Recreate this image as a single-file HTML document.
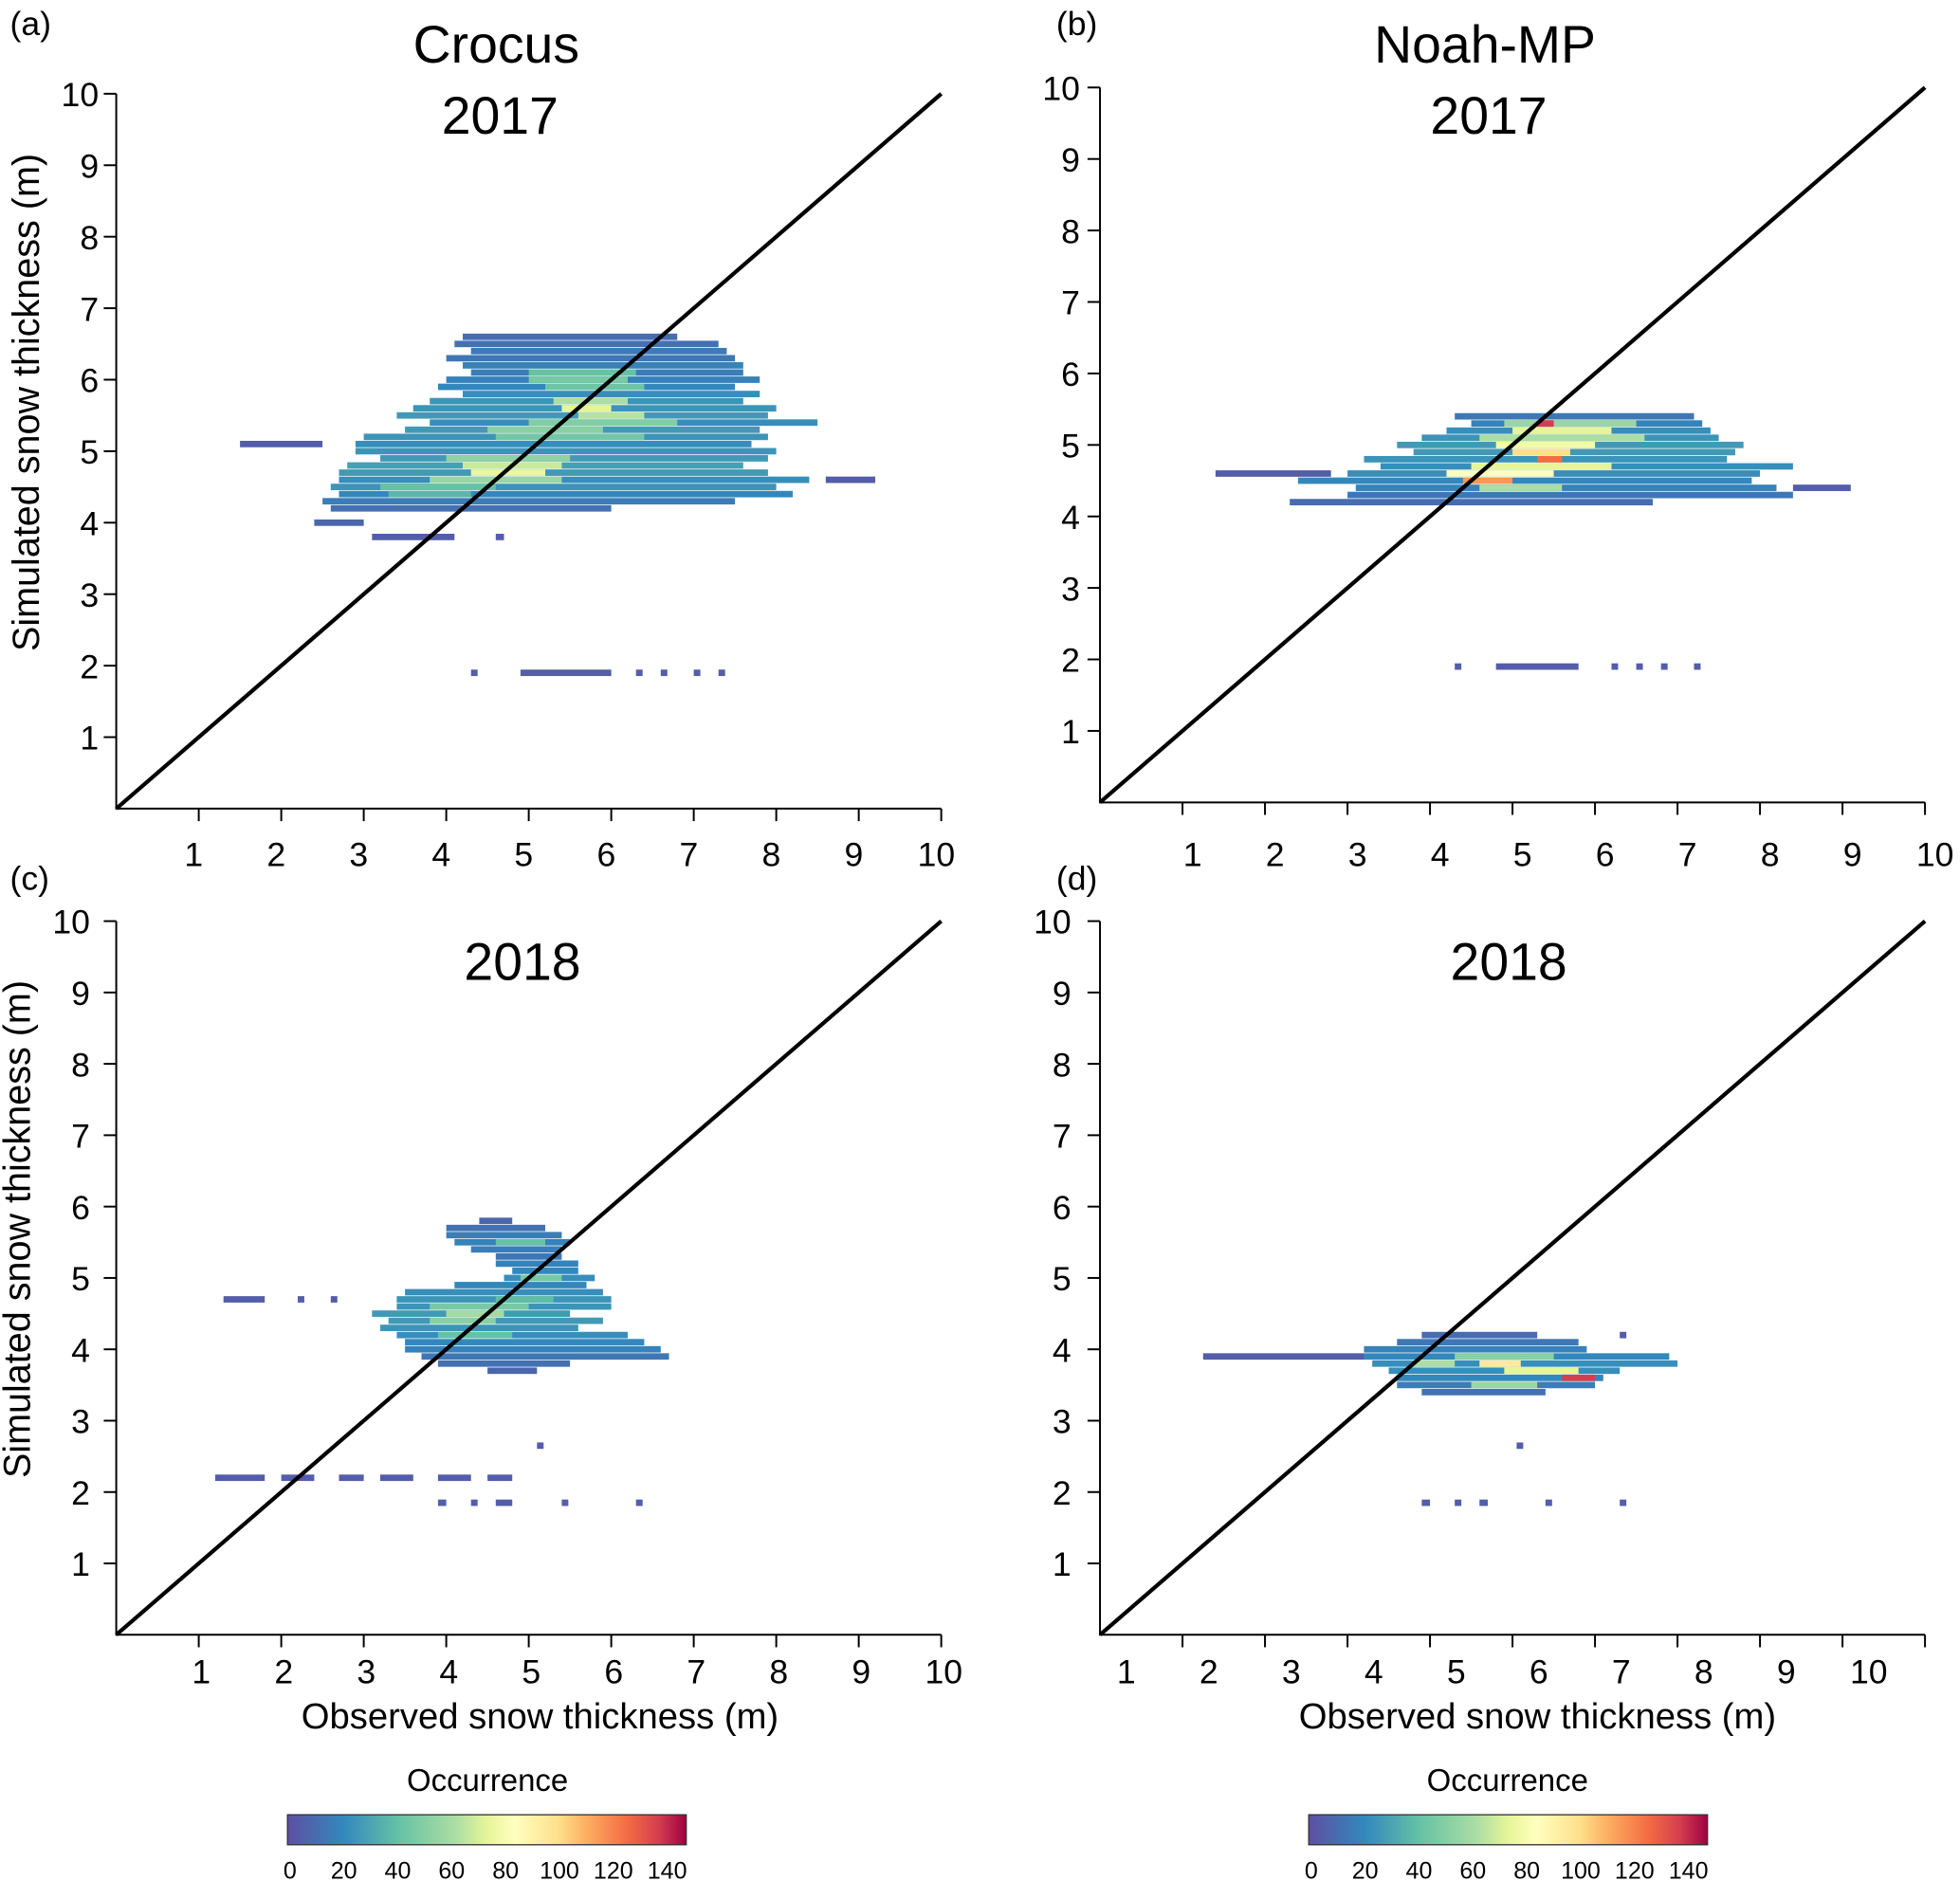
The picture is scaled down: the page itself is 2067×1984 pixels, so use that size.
<!DOCTYPE html>
<html><head><meta charset="utf-8">
<style>
html,body{margin:0;padding:0;background:#fff;}
svg{display:block;font-family:"Liberation Sans",Arial,sans-serif;}
</style></head>
<body>
<svg id="fig" width="2067" height="1984" viewBox="0 0 1568 1505" preserveAspectRatio="none" xmlns="http://www.w3.org/2000/svg">
<defs>
<linearGradient id="cmap" x1="0" x2="1" y1="0" y2="0">
<stop offset="0" stop-color="#5e4fa2"/><stop offset="0.14" stop-color="#3288bd"/>
<stop offset="0.28" stop-color="#66c2a5"/><stop offset="0.42" stop-color="#abdda4"/>
<stop offset="0.5" stop-color="#e6f598"/><stop offset="0.57" stop-color="#ffffbf"/>
<stop offset="0.68" stop-color="#fee08b"/><stop offset="0.75" stop-color="#fdae61"/>
<stop offset="0.85" stop-color="#f46d43"/><stop offset="0.93" stop-color="#d53e4f"/>
<stop offset="1" stop-color="#9e0142"/></linearGradient>
</defs>
</svg>
<script>
// tick values
const xTicks=[1,2,3,4,5,6,7,8,9,10];
const yTicks=[1,2,3,4,5,6,7,8,9,10];
const cbTicks=[0,20,40,60,80,100,120,140];
// heatmap segments: [y, xStart, xEnd, occurrence]
const segA=[
[6.6,4.2,6.8,10],[6.5,4.1,7.3,12],[6.4,4.3,7.4,15],[6.3,4.0,7.5,14],[6.2,4.2,7.6,18],[6.1,4.3,7.6,16],
[6.0,4.0,7.8,18],[5.9,3.9,7.5,20],[5.8,4.2,7.8,22],[5.7,3.8,7.6,24],[5.6,3.6,8.0,24],[5.5,3.4,7.9,26],
[5.4,3.8,8.5,22],[5.3,3.5,7.8,26],[5.2,3.0,7.9,24],[5.1,2.9,7.7,22],[5.1,1.5,2.5,5],[5.0,2.9,8.0,24],
[4.9,3.2,7.9,26],[4.8,2.8,7.6,28],[4.7,2.7,7.9,26],[4.6,2.7,8.4,22],[4.6,8.6,9.2,5],[4.5,2.6,8.0,24],
[4.4,2.7,8.2,20],[4.3,2.5,7.5,16],[4.2,2.6,6.0,12],[4.0,2.4,3.0,8],[3.8,3.1,4.1,5],[3.8,4.6,4.7,5],
[1.9,4.3,4.35,5],[1.9,4.9,6.0,5],[1.9,6.3,6.35,5],[1.9,6.6,6.65,5],[1.9,7.0,7.05,5],[1.9,7.3,7.35,5],
// hotter core
[6.1,5.0,6.3,40],[6.0,5.0,6.2,45],[5.9,5.2,6.4,42],[5.7,5.3,6.2,60],[5.6,5.4,6.0,70],[5.5,5.6,6.4,62],
[5.4,5.0,6.8,48],[5.3,4.5,5.9,50],[5.2,4.6,6.4,44],[4.9,4.0,5.5,52],[4.8,4.2,5.4,65],[4.7,4.3,5.2,72],
[4.6,3.8,5.4,55],[4.5,3.2,4.6,40],[4.4,3.3,4.3,36]
];
const segB=[
[5.4,4.3,7.2,14],[5.3,4.5,7.3,18],[5.2,4.2,7.4,22],[5.1,3.9,7.5,24],[5.0,3.6,7.8,26],[4.9,3.8,7.7,26],
[4.8,3.2,7.6,24],[4.7,3.4,8.4,22],[4.6,3.0,8.0,22],[4.6,1.4,2.8,5],[4.5,2.4,7.9,20],[4.4,3.1,8.2,18],
[4.4,8.4,9.1,5],[4.3,3.0,8.4,14],[4.2,2.3,6.7,10],
[1.9,4.3,4.35,5],[1.9,4.8,5.8,5],[1.9,6.2,6.25,5],[1.9,6.5,6.55,5],[1.9,6.8,6.85,5],[1.9,7.2,7.25,5],
[5.3,4.9,6.5,55],[5.2,5.0,6.2,70],[5.1,4.6,6.6,60],[5.0,4.8,6.0,75],[4.9,5.0,5.7,95],[4.8,5.3,5.6,120],
[4.7,4.5,6.2,70],[4.6,4.2,5.5,80],[4.5,4.4,5.0,110],[4.4,4.6,5.6,60],[5.3,5.3,5.5,130]
];
const segC=[
[5.8,4.4,4.8,8],[5.7,4.0,5.2,12],[5.6,4.0,5.4,16],[5.5,4.1,5.5,18],[5.4,4.3,5.4,16],[5.3,4.6,5.4,14],
[5.2,4.6,5.6,18],[5.1,4.8,5.6,20],[5.0,4.7,5.8,22],[4.9,4.1,5.7,20],[4.8,3.5,5.9,22],[4.7,3.4,6.0,24],
[4.7,1.3,1.8,5],[4.7,2.2,2.25,5],[4.7,2.6,2.65,5],[4.6,3.4,6.0,24],[4.5,3.1,5.5,26],[4.4,3.3,5.9,26],
[4.3,3.2,5.6,24],[4.2,3.4,6.2,22],[4.1,3.5,6.4,20],[4.0,3.5,6.6,18],[3.9,3.7,6.7,14],[3.8,3.9,5.5,12],
[3.7,4.5,5.1,8],[2.65,5.1,5.15,5],
[2.2,1.2,1.8,5],[2.2,2.0,2.4,5],[2.2,2.7,3.0,5],[2.2,3.2,3.6,5],[2.2,3.9,4.3,5],[2.2,4.5,4.8,5],
[1.85,3.9,4.0,5],[1.85,4.3,4.35,5],[1.85,4.6,4.8,5],[1.85,5.4,5.45,5],[1.85,6.3,6.35,5],
[5.5,4.6,5.2,40],[5.0,4.9,5.4,45],[4.6,3.8,5.0,45],[4.5,4.0,4.7,58],[4.4,3.8,4.6,50],[4.2,3.9,4.8,40],[4.7,4.6,5.3,38]
];
const segD=[
[4.2,3.9,5.3,10],[4.2,6.3,6.35,5],[4.1,3.6,5.8,14],[4.0,3.2,5.9,18],[3.9,3.2,6.9,20],[3.9,1.25,3.2,5],
[3.8,3.3,7.0,22],[3.7,3.5,6.3,22],[3.6,3.6,6.1,20],[3.5,3.6,6.0,16],[3.4,3.9,5.4,12],[2.65,5.05,5.1,5],
[1.85,3.9,4.0,5],[1.85,4.3,4.35,5],[1.85,4.6,4.7,5],[1.85,5.4,5.45,5],[1.85,6.3,6.35,5],
[3.9,4.3,5.5,50],[3.8,4.6,5.1,90],[3.7,4.9,5.8,70],[3.6,5.6,6.0,130],[3.5,4.5,5.3,55],[3.8,3.8,4.3,60]
];
const panels=[
 {id:'a',ox:93,oy:647,x10:753,y10:75,seg:segA,title:['Crocus','2017'],tx:397,xlabOff:-4,xlabY:683,ylabX:79,xTitle:false},
 {id:'b',ox:880,oy:642,x10:1540,y10:70,seg:segB,title:['Noah-MP','2017'],tx:1188,xlabOff:8,xlabY:683,ylabX:864,xTitle:false},
 {id:'c',ox:93,oy:1308,x10:753,y10:737,seg:segC,title:[null,'2018'],tx:418,xlabOff:2,xlabY:1337,ylabX:72,xTitle:true},
 {id:'d',ox:880,oy:1308,x10:1540,y10:737,seg:segD,title:[null,'2018'],tx:1207,xlabOff:-45,xlabY:1337,ylabX:857,xTitle:true}
];
const NS='http://www.w3.org/2000/svg';
const svg=document.getElementById('fig');
const stops=[[0,[94,79,162]],[20,[50,136,189]],[40,[102,194,165]],[60,[171,221,164]],[70,[230,245,152]],[80,[255,255,191]],[95,[254,224,139]],[105,[253,174,97]],[120,[244,109,67]],[130,[213,62,79]],[140,[158,1,66]]];
function color(v){
 for(let i=1;i<stops.length;i++){if(v<=stops[i][0]){const a=stops[i-1],b=stops[i];const t=(v-a[0])/(b[0]-a[0]);
  const c=a[1].map((q,k)=>Math.round(q+(b[1][k]-q)*t));return `rgb(${c})`;}}
 return 'rgb(158,1,66)';
}
function mk(tag,attrs,parent){const e=document.createElementNS(NS,tag);for(const k in attrs)e.setAttribute(k,attrs[k]);(parent||svg).appendChild(e);return e;}
panels.forEach(p=>{
 const sx=v=>p.ox+(p.x10-p.ox)*v/10, sy=v=>p.oy-(p.oy-p.y10)*v/10;
 const g=mk('g',{});
 
 
 const hm=mk('g',{},g);
 
 
 const cw=0.08, ch=0.09;
 p.seg.forEach(s=>{
  const [y,x0,x1,v]=s;
  const r=mk('rect',{x:sx(x0).toFixed(2),y:sy(y+ch/2).toFixed(2),width:Math.max(sx(x1)-sx(x0),sx(cw)-sx(0)).toFixed(2),height:(sy(0)-sy(ch)).toFixed(2),fill:color(v)},hm);
  
  
 });
 const ln=mk('line',{x1:sx(0),y1:sy(0),x2:sx(10),y2:sy(10),stroke:'#000','stroke-width':3.2},g);
 
 
 const ax=mk('path',{d:`M${sx(0)},${sy(10)}V${sy(0)}H${sx(10)}`,stroke:'#000','stroke-width':1.5,fill:'none'},g);
 
 
 xTicks.forEach(t=>{
  mk('line',{x1:sx(t),x2:sx(t),y1:sy(0),y2:sy(0)+10,stroke:'#000','stroke-width':1.5},g);
  const tx=mk('text',{x:sx(t)+p.xlabOff,y:p.xlabY+10,'font-size':27,'text-anchor':'middle'},g);
  tx.textContent=t;
  
  
 });
 yTicks.forEach(t=>{
  mk('line',{x1:sx(0)-10,x2:sx(0),y1:sy(t),y2:sy(t),stroke:'#000','stroke-width':1.5},g);
  const tx=mk('text',{x:p.ylabX,y:sy(t)+10,'font-size':27,'text-anchor':'end'},g);
  tx.textContent=t;
  
  
 });
 const lb=mk('text',{x:(p.id==='a'||p.id==='c')?8:845,y:(p.id==='a'||p.id==='b')?28:712,'font-size':27},g);
 lb.textContent='('+p.id+')';
 
 
 if(p.title[0]){const t=mk('text',{x:p.tx,y:50,'font-size':42,'text-anchor':'middle'},g);t.textContent=p.title[0];
  
  }
 const t2=mk('text',{x:p.tx+(p.title[0]?3:0),y:p.title[0]?107:784,'font-size':42,'text-anchor':'middle'},g);
 t2.textContent=p.title[1];
 
 
 if(p.id==='a'||p.id==='c'){
  const yt=mk('text',{x:0,y:0,'font-size':30,'text-anchor':'middle',transform:`translate(${p.id==='a'?31:24},${(sy(0)+sy(10))/2-39}) rotate(-90)`},g);
  yt.textContent='Simulated snow thickness (m)';
  
  
 }
 if(p.xTitle){
  const xt=mk('text',{x:p.id==='c'?432:1230,y:1383,'font-size':29,'text-anchor':'middle'},g);
  xt.textContent='Observed snow thickness (m)';
  
  
 }
});
[[230,390],[1047,1206]].forEach(([x0,cx])=>{
 const g=mk('g',{});
 
 
 const w=319;
 mk('rect',{x:x0,y:1452,width:w,height:24,fill:'url(#cmap)',stroke:'#333','stroke-width':1},g);
 const t=mk('text',{x:cx,y:1433,'font-size':25,'text-anchor':'middle'},g);
 t.textContent='Occurrence';
 
 
 cbTicks.forEach(v=>{
  const l=mk('text',{x:x0+w*v/148+2,y:1503,'font-size':19,'text-anchor':'middle'},g);
  l.textContent=v;
  
  
 });
});
</script>
</body></html>
